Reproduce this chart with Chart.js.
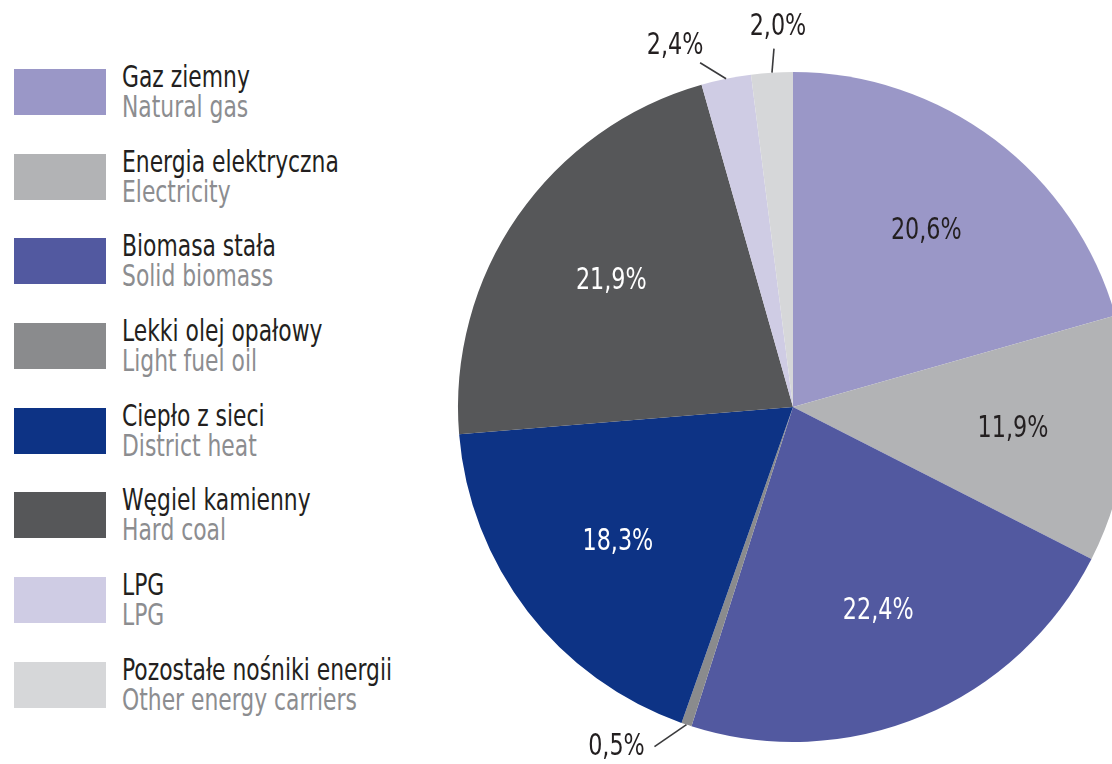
<!DOCTYPE html>
<html>
<head>
<meta charset="utf-8">
<script src="https://cdn.jsdelivr.net/npm/chart.js@4/dist/chart.umd.min.js"></script>
<style>
  html, body { margin: 0; padding: 0; background: #fff; }
  body { width: 1112px; height: 764px; overflow: hidden; position: relative;
    font-family: 'DejaVu Sans Condensed', 'DejaVu Sans', sans-serif; }
  #chart { position: absolute; left: 0; top: 0; }
  .legend { position: absolute; left: 14px; top: 62px; }
  .legend-item { display: flex; height: 84.7px; }
  .legend-box { width: 92px; height: 46px; margin-top: 7px; flex: none; }
  .legend-text { margin-left: 16px; font-size: 30px; line-height: 30px; white-space: nowrap;
    transform: scaleX(0.81); transform-origin: left top; }
  .legend-text .pl { color: #231f20; }
  .legend-text .en { color: #8c8d90; }
</style>
</head>
<body>
<div class="legend" id="legend"></div>
<canvas id="chart" width="1200" height="764"></canvas>
<script>
  // carriers in drawing order (clockwise from 12 o'clock)
  const labelsPL = ['Gaz ziemny', 'Energia elektryczna', 'Biomasa stała', 'Lekki olej opałowy',
    'Ciepło z sieci', 'Węgiel kamienny', 'LPG', 'Pozostałe nośniki energii'];
  const labelsEN = ['Natural gas', 'Electricity', 'Solid biomass', 'Light fuel oil',
    'District heat', 'Hard coal', 'LPG', 'Other energy carriers'];
  const shares = [20.6, 11.9, 22.4, 0.5, 18.3, 21.9, 2.4, 2.0];

  const colors = ['#9a97c7', '#b2b3b5', '#5259a0', '#8a8b8d', '#0d3385', '#565759', '#cfcce4', '#d6d7d9'];
  const labelColors = ['#231f20', '#231f20', '#ffffff', '#231f20', '#ffffff', '#ffffff', '#231f20', '#231f20'];
  // small slices get a leader line: end of line relative to rim, then text relative to line end
  const outside = {
    3: { dx: -32, dy: 22, tx: -38, ty: 0 },
    6: { dx: -26, dy: -16, tx: -25, ty: -17 },
    7: { dx: 2, dy: -24, tx: 4, ty: -22 },
  };

  const fmt = (v) => v.toFixed(1).replace('.', ',') + '%';
  const FONT = "'DejaVu Sans Condensed', 'DejaVu Sans', sans-serif";

  document.getElementById('legend').innerHTML = labelsPL.map((pl, i) => `
    <div class="legend-item">
      <div class="legend-box" style="background:${colors[i]}"></div>
      <div class="legend-text"><div class="pl">${pl}</div><div class="en">${labelsEN[i]}</div></div>
    </div>`).join('');

  // narrow text, the source font is a condensed face
  function narrowText(ctx, text, x, y) {
    ctx.save();
    ctx.translate(x, y);
    ctx.scale(0.8, 1);
    ctx.fillText(text, 0, 0);
    ctx.restore();
  }

  const sliceLabels = {
    id: 'sliceLabels',
    afterDatasetsDraw(chart) {
      const ctx = chart.ctx;
      const arcs = chart.getDatasetMeta(0).data;
      ctx.save();
      ctx.font = `31px ${FONT}`;
      ctx.textAlign = 'center';
      ctx.textBaseline = 'middle';
      arcs.forEach((arc, i) => {
        const { x, y, startAngle, endAngle, outerRadius } = arc.getProps(['x', 'y', 'startAngle', 'endAngle', 'outerRadius'], true);
        const mid = (startAngle + endAngle) / 2;
        const o = outside[i];
        if (o) {
          const sx = x + Math.cos(mid) * outerRadius;
          const sy = y + Math.sin(mid) * outerRadius;
          const ex = sx + o.dx, ey = sy + o.dy;
          ctx.strokeStyle = '#3a3a3c';
          ctx.lineWidth = 1.6;
          ctx.beginPath(); ctx.moveTo(sx, sy); ctx.lineTo(ex, ey); ctx.stroke();
          ctx.fillStyle = '#231f20';
          narrowText(ctx, fmt(shares[i]), ex + o.tx, ey + o.ty);
        } else {
          const r = outerRadius * 0.66;
          ctx.fillStyle = labelColors[i];
          narrowText(ctx, fmt(shares[i]), x + Math.cos(mid) * r, y + Math.sin(mid) * r);
        }
      });
      ctx.restore();
    }
  };

  new Chart(document.getElementById('chart'), {
    type: 'pie',
    data: {
      labels: labelsPL,
      datasets: [{ data: shares, backgroundColor: colors, borderWidth: 0 }],
    },
    options: {
      responsive: false,
      animation: false,
      layout: { padding: { left: 458, right: 72, top: 72, bottom: 22 } },
      plugins: { legend: { display: false }, tooltip: { enabled: false } },
    },
    plugins: [sliceLabels],
  });
</script>
</body>
</html>
